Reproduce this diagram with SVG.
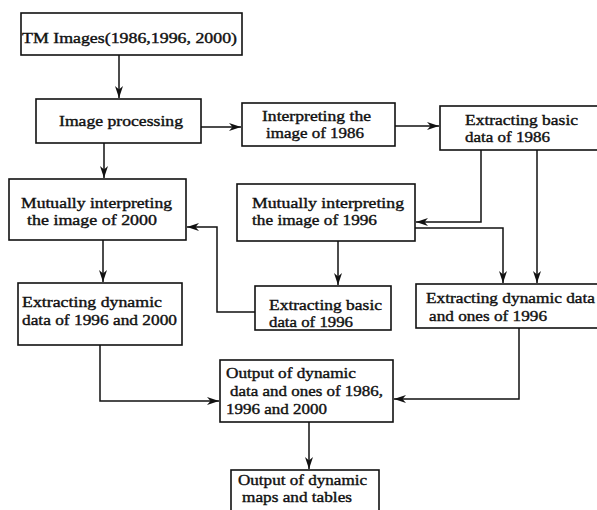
<svg xmlns="http://www.w3.org/2000/svg" width="597" height="510" viewBox="0 0 597 510">
<defs>
<style>
.box{fill:#fff;stroke:#111;stroke-width:1.6}
.t{font-family:"Liberation Serif","Times New Roman",serif;font-size:15.3px;fill:#111;stroke:#111;stroke-width:0.4}
.c{fill:none;stroke:#111;stroke-width:1.5}
</style>
<marker id="ah" markerWidth="13" markerHeight="9" refX="12" refY="4.5" orient="auto" markerUnits="userSpaceOnUse">
<path d="M0,0.5 L12,4.5 L0,8.5 L3.5,4.5 z" fill="#111"/>
</marker>
</defs>
<rect width="597" height="510" fill="#fff"/>
<g id="connectors">
<path class="c" d="M119,55 V98" marker-end="url(#ah)"/>
<path class="c" d="M201,127 H241" marker-end="url(#ah)"/>
<path class="c" d="M395,126 H439" marker-end="url(#ah)"/>
<path class="c" d="M104,143 V178" marker-end="url(#ah)"/>
<path class="c" d="M103,240 V282" marker-end="url(#ah)"/>
<path class="c" d="M255,312 H217 V227 H187" marker-end="url(#ah)"/>
<path class="c" d="M481,150 V222 H416" marker-end="url(#ah)"/>
<path class="c" d="M415,228 H503 V283" marker-end="url(#ah)"/>
<path class="c" d="M537,150 V283" marker-end="url(#ah)"/>
<path class="c" d="M338,241 V285" marker-end="url(#ah)"/>
<path class="c" d="M100,345 V401 H219" marker-end="url(#ah)"/>
<path class="c" d="M519,328 V399 H394" marker-end="url(#ah)"/>
<path class="c" d="M309,422 V469" marker-end="url(#ah)"/>
</g>
<g id="n1"><rect class="box" x="21" y="13" width="221" height="42"/><text class="t" x="22" y="43" textLength="215" lengthAdjust="spacingAndGlyphs">TM Images(1986,1996, 2000)</text></g>
<g id="n2"><rect class="box" x="36" y="99" width="165" height="44"/><text class="t" x="59" y="126" textLength="124" lengthAdjust="spacingAndGlyphs">Image processing</text></g>
<g id="n3"><rect class="box" x="242" y="103" width="153" height="43"/><text class="t" x="262" y="121" textLength="109" lengthAdjust="spacingAndGlyphs">Interpreting the</text><text class="t" x="266" y="138" textLength="98" lengthAdjust="spacingAndGlyphs">image of 1986</text></g>
<g id="n4"><rect class="box" x="440" y="106" width="159" height="44"/><text class="t" x="465" y="125" textLength="113" lengthAdjust="spacingAndGlyphs">Extracting basic</text><text class="t" x="465" y="142" textLength="85" lengthAdjust="spacingAndGlyphs">data of 1986</text></g>
<g id="n5"><rect class="box" x="9" y="179" width="177" height="61"/><text class="t" x="21" y="208" textLength="151" lengthAdjust="spacingAndGlyphs">Mutually interpreting</text><text class="t" x="27" y="225" textLength="130" lengthAdjust="spacingAndGlyphs">the image of 2000</text></g>
<g id="n6"><rect class="box" x="18" y="283" width="164" height="62"/><text class="t" x="22" y="307" textLength="140" lengthAdjust="spacingAndGlyphs">Extracting dynamic</text><text class="t" x="22" y="325" textLength="155" lengthAdjust="spacingAndGlyphs">data of 1996 and 2000</text></g>
<g id="n7"><rect class="box" x="237" y="184" width="178" height="57"/><text class="t" x="252" y="208" textLength="152" lengthAdjust="spacingAndGlyphs">Mutually interpreting</text><text class="t" x="252" y="225" textLength="125" lengthAdjust="spacingAndGlyphs">the image of 1996</text></g>
<g id="n8"><rect class="box" x="255" y="286" width="136" height="44"/><text class="t" x="269" y="310" textLength="113" lengthAdjust="spacingAndGlyphs">Extracting basic</text><text class="t" x="269" y="327" textLength="84" lengthAdjust="spacingAndGlyphs">data of 1996</text></g>
<g id="n9"><rect class="box" x="416" y="284" width="183" height="44"/><text class="t" x="426" y="303" textLength="169" lengthAdjust="spacingAndGlyphs">Extracting dynamic data</text><text class="t" x="429" y="321" textLength="118" lengthAdjust="spacingAndGlyphs">and ones of 1996</text></g>
<g id="n10"><rect class="box" x="220" y="360" width="173" height="62"/><text class="t" x="226" y="378" textLength="130" lengthAdjust="spacingAndGlyphs">Output of dynamic</text><text class="t" x="230" y="396" textLength="153" lengthAdjust="spacingAndGlyphs">data and ones of 1986,</text><text class="t" x="226" y="414" textLength="101" lengthAdjust="spacingAndGlyphs">1996 and 2000</text></g>
<g id="n11"><rect class="box" x="231" y="470" width="148" height="42"/><text class="t" x="238" y="485" textLength="129" lengthAdjust="spacingAndGlyphs">Output of dynamic</text><text class="t" x="242" y="502" textLength="110" lengthAdjust="spacingAndGlyphs">maps and tables</text></g>
</svg>
